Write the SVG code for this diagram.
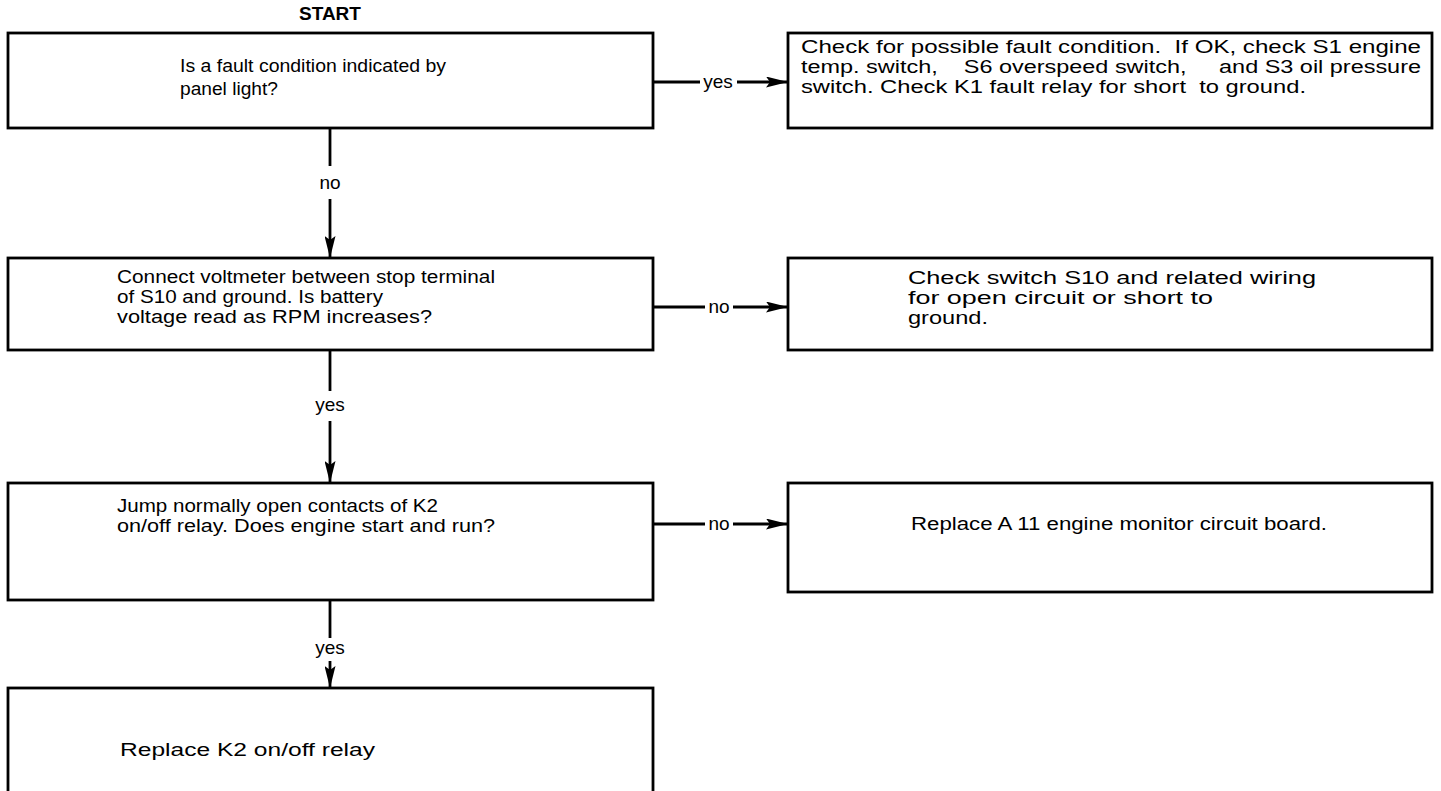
<svg xmlns="http://www.w3.org/2000/svg" width="1441" height="791" viewBox="0 0 1441 791">
<defs>
<marker id="ah" viewBox="0 0 22 11" refX="22" refY="5.5" markerWidth="22" markerHeight="11" markerUnits="userSpaceOnUse" orient="auto">
<path d="M0,0 L22,5.5 L0,11 L4,5.5 Z" fill="#000"/>
</marker>
<style>
.box{fill:#fff;stroke:#000;stroke-width:2.8}
.t{font-family:"Liberation Sans",Arial,sans-serif;font-size:17.5px;fill:#000}
.lbl{font-family:"Liberation Sans",Arial,sans-serif;font-size:19px;fill:#000;text-anchor:middle}
.c{stroke:#000;stroke-width:2.8;fill:none}
</style>
</defs>
<rect width="1441" height="791" fill="#fff"/>
<text x="330" y="20" class="lbl" font-weight="bold">START</text>
<g id="n1">
<rect class="box" x="8" y="33" width="645" height="95"/>
<text class="t" x="180" y="72" textLength="266" lengthAdjust="spacingAndGlyphs">Is a fault condition indicated by</text>
<text class="t" x="180" y="95" textLength="98" lengthAdjust="spacingAndGlyphs">panel light?</text>
</g>
<g id="n2">
<rect class="box" x="788" y="33" width="644" height="95"/>
<text class="t" x="801" y="53" textLength="620" lengthAdjust="spacingAndGlyphs" xml:space="preserve">Check for possible fault condition.  If OK, check S1 engine</text>
<text class="t" x="801" y="73" textLength="620" lengthAdjust="spacingAndGlyphs" xml:space="preserve">temp. switch,    S6 overspeed switch,     and S3 oil pressure</text>
<text class="t" x="801" y="93" textLength="505" lengthAdjust="spacingAndGlyphs" xml:space="preserve">switch. Check K1 fault relay for short  to ground.</text>
</g>
<g id="n3">
<rect class="box" x="8" y="258" width="645" height="92"/>
<text class="t" x="117" y="283" textLength="378" lengthAdjust="spacingAndGlyphs">Connect voltmeter between stop terminal</text>
<text class="t" x="117" y="303" textLength="266" lengthAdjust="spacingAndGlyphs">of S10 and ground. Is battery</text>
<text class="t" x="117" y="323" textLength="315" lengthAdjust="spacingAndGlyphs">voltage read as RPM increases?</text>
</g>
<g id="n4">
<rect class="box" x="788" y="258" width="644" height="92"/>
<text class="t" x="908" y="284" textLength="408" lengthAdjust="spacingAndGlyphs">Check switch S10 and related wiring</text>
<text class="t" x="908" y="304" textLength="305" lengthAdjust="spacingAndGlyphs">for open circuit or short to</text>
<text class="t" x="908" y="324" textLength="80" lengthAdjust="spacingAndGlyphs">ground.</text>
</g>
<g id="n5">
<rect class="box" x="8" y="483" width="645" height="117"/>
<text class="t" x="117" y="512" textLength="321" lengthAdjust="spacingAndGlyphs">Jump normally open contacts of K2</text>
<text class="t" x="117" y="532" textLength="378" lengthAdjust="spacingAndGlyphs">on/off relay. Does engine start and run?</text>
</g>
<g id="n6">
<rect class="box" x="788" y="483" width="644" height="109"/>
<text class="t" x="911" y="530" textLength="416" lengthAdjust="spacingAndGlyphs">Replace A 11 engine monitor circuit board.</text>
</g>
<g id="n7">
<rect class="box" x="8" y="688" width="645" height="120"/>
<text class="t" x="120" y="756" textLength="255" lengthAdjust="spacingAndGlyphs">Replace K2 on/off relay</text>
</g>
<g id="connectors">
<line class="c" x1="653" y1="82" x2="700" y2="82"/>
<line class="c" x1="737" y1="82" x2="788" y2="82" marker-end="url(#ah)"/>
<text class="lbl" x="718" y="88">yes</text>
<line class="c" x1="330" y1="128" x2="330" y2="166"/>
<line class="c" x1="330" y1="199" x2="330" y2="258" marker-end="url(#ah)"/>
<text class="lbl" x="330" y="189">no</text>
<line class="c" x1="653" y1="307" x2="705" y2="307"/>
<line class="c" x1="733" y1="307" x2="788" y2="307" marker-end="url(#ah)"/>
<text class="lbl" x="719" y="313">no</text>
<line class="c" x1="330" y1="350" x2="330" y2="391"/>
<line class="c" x1="330" y1="421" x2="330" y2="483" marker-end="url(#ah)"/>
<text class="lbl" x="330" y="411">yes</text>
<line class="c" x1="653" y1="524" x2="705" y2="524"/>
<line class="c" x1="733" y1="524" x2="788" y2="524" marker-end="url(#ah)"/>
<text class="lbl" x="719" y="530">no</text>
<line class="c" x1="330" y1="600" x2="330" y2="638"/>
<line class="c" x1="330" y1="661" x2="330" y2="688" marker-end="url(#ah)"/>
<text class="lbl" x="330" y="654">yes</text>
</g>
</svg>
